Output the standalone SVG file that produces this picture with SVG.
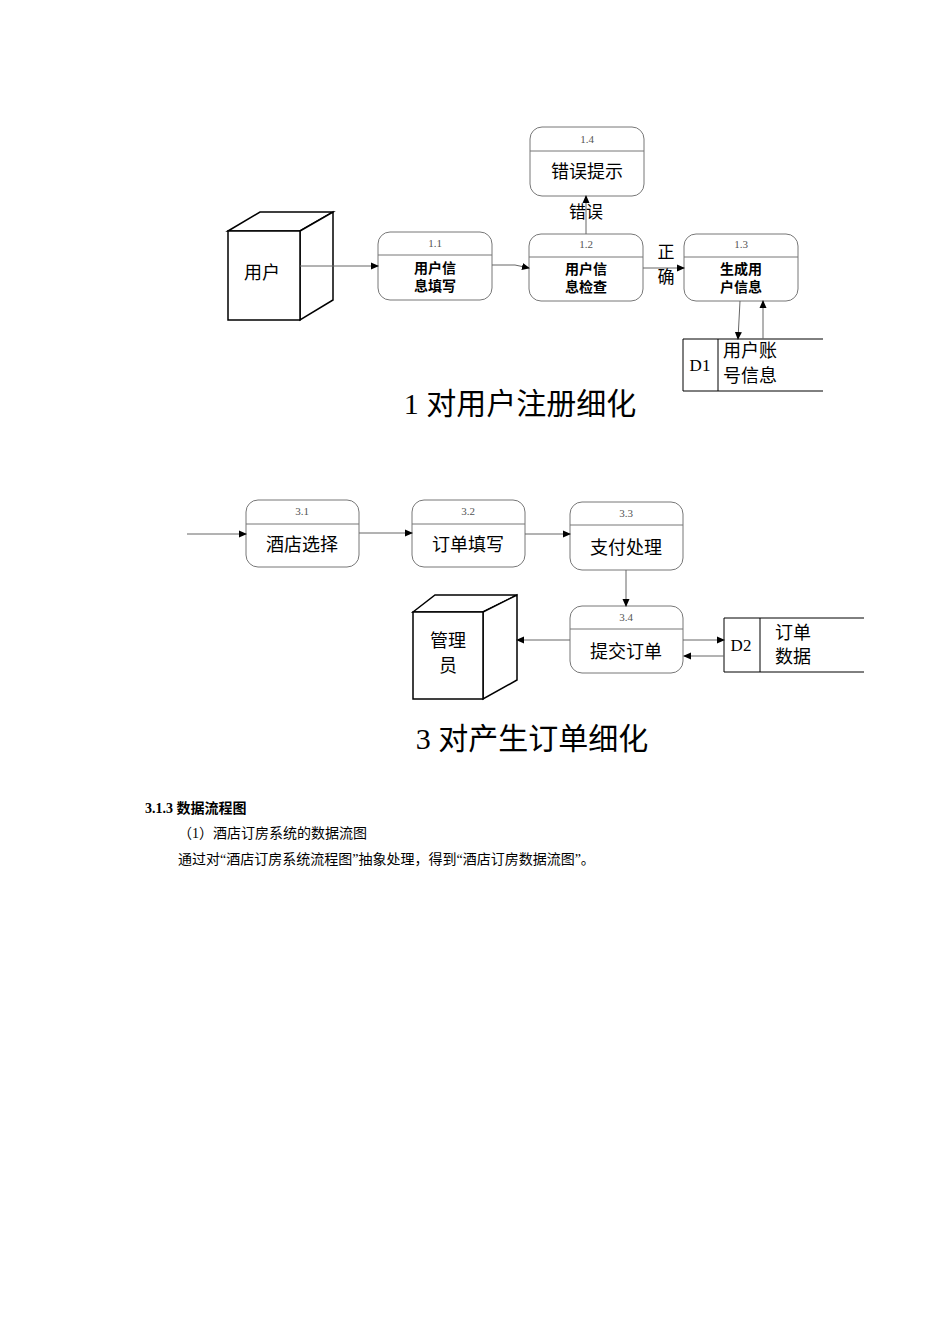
<svg xmlns="http://www.w3.org/2000/svg" width="950" height="1344" viewBox="0 0 950 1344">
<style>
.p{fill:#fff;stroke:#777;stroke-width:1}
.d{stroke:#777;stroke-width:1}
.num{font-family:"Liberation Serif",serif;font-size:11px;fill:#555;text-anchor:middle}
.t{font-family:"Noto Sans CJK SC",sans-serif;fill:#000;text-anchor:middle}
.c{stroke:#666;stroke-width:1;fill:none;marker-end:url(#a)}
.e{fill:#fff;stroke:#000;stroke-width:1.5}
.ttl{font-family:"Liberation Serif","Noto Sans CJK SC",serif;font-size:30px;text-anchor:middle}
.body{font-family:"Liberation Serif","Noto Sans CJK SC",serif;font-size:14px}
</style>
<defs><marker id="a" markerWidth="8" markerHeight="8" refX="7" refY="4" orient="auto" markerUnits="userSpaceOnUse"><path d="M0,0.5 L8,4 L0,7.5z" fill="#000"/></marker></defs>
<rect width="950" height="1344" fill="#fff"/>
<g id="user"><polygon class="e" points="228,231 260,212 333,212 300,231"/><polygon class="e" points="300,231 333,212 333,300 300,320"/><rect class="e" x="228" y="231" width="72" height="89"/><text class="t" x="262" y="279" font-size="18">用户</text></g>
<g id="p11"><rect class="p" x="378" y="232" width="114" height="68" rx="12"/><line class="d" x1="378" y1="255" x2="492" y2="255"/><text class="num" x="435" y="247">1.1</text><text class="t" x="435" y="273" font-size="14" font-weight="bold">用户信</text><text class="t" x="435" y="291" font-size="14" font-weight="bold">息填写</text></g>
<g id="p12"><rect class="p" x="529" y="234" width="114" height="67" rx="12"/><line class="d" x1="529" y1="257" x2="643" y2="257"/><text class="num" x="586" y="248">1.2</text><text class="t" x="586" y="274" font-size="14" font-weight="bold">用户信</text><text class="t" x="586" y="292" font-size="14" font-weight="bold">息检查</text></g>
<g id="p13"><rect class="p" x="684" y="234" width="114" height="67" rx="12"/><line class="d" x1="684" y1="257" x2="798" y2="257"/><text class="num" x="741" y="248">1.3</text><text class="t" x="741" y="274" font-size="14" font-weight="bold">生成用</text><text class="t" x="741" y="292" font-size="14" font-weight="bold">户信息</text></g>
<g id="p14"><rect class="p" x="530" y="127" width="114" height="69" rx="12"/><line class="d" x1="530" y1="151" x2="644" y2="151"/><text class="num" x="587" y="143">1.4</text><text class="t" x="587" y="178" font-size="18">错误提示</text></g>
<g id="d1"><path d="M823,339 H683 V391 H823 M718,339 V391" fill="none" stroke="#000" stroke-width="1"/><text x="700" y="371" font-family="Liberation Serif,serif" font-size="17" text-anchor="middle">D1</text><text class="t" x="723" y="357" font-size="18" style="text-anchor:start">用户账</text><text class="t" x="723" y="382" font-size="18" style="text-anchor:start">号信息</text></g>
<g id="p31"><rect class="p" x="246" y="500" width="113" height="67" rx="12"/><line class="d" x1="246" y1="524" x2="359" y2="524"/><text class="num" x="302" y="515">3.1</text><text class="t" x="302" y="551" font-size="18">酒店选择</text></g>
<g id="p32"><rect class="p" x="412" y="500" width="113" height="67" rx="12"/><line class="d" x1="412" y1="524" x2="525" y2="524"/><text class="num" x="468" y="515">3.2</text><text class="t" x="468" y="551" font-size="18">订单填写</text></g>
<g id="p33"><rect class="p" x="570" y="502" width="113" height="68" rx="12"/><line class="d" x1="570" y1="525" x2="683" y2="525"/><text class="num" x="626" y="517">3.3</text><text class="t" x="626" y="554" font-size="18">支付处理</text></g>
<g id="p34"><rect class="p" x="570" y="606" width="113" height="67" rx="12"/><line class="d" x1="570" y1="629" x2="683" y2="629"/><text class="num" x="626" y="621">3.4</text><text class="t" x="626" y="658" font-size="18">提交订单</text></g>
<g id="admin"><polygon class="e" points="413,612 435,595 517,595 483,612"/><polygon class="e" points="483,612 517,595 517,680 483,699"/><rect class="e" x="413" y="612" width="70" height="87"/><text class="t" x="448" y="647" font-size="18">管理</text><text class="t" x="448" y="672" font-size="18">员</text></g>
<g id="d2"><path d="M864,618 H724 V672 H864 M760,618 V672" fill="none" stroke="#000" stroke-width="1"/><text x="741" y="651" font-family="Liberation Serif,serif" font-size="17" text-anchor="middle">D2</text><text class="t" x="793" y="639" font-size="18">订单</text><text class="t" x="793" y="663" font-size="18">数据</text></g>
<g id="connectors">
<line class="c" x1="300" y1="266" x2="378" y2="266"/>
<path class="c" d="M492,265 L515,265 L529,268"/>
<line class="c" x1="643" y1="268" x2="684" y2="268"/>
<line class="c" x1="586" y1="234" x2="586" y2="196"/>
<line class="c" x1="740" y1="301" x2="738" y2="339"/>
<line class="c" x1="763" y1="339" x2="763" y2="301"/>
<line class="c" x1="187" y1="534" x2="246" y2="534"/>
<line class="c" x1="359" y1="533" x2="412" y2="533"/>
<line class="c" x1="525" y1="534" x2="570" y2="534"/>
<line class="c" x1="626" y1="570" x2="626" y2="606"/>
<line class="c" x1="570" y1="640" x2="517" y2="640"/>
<line class="c" x1="683" y1="640" x2="724" y2="640"/>
<line class="c" x1="724" y1="656" x2="684" y2="656"/>
</g>
<text class="t" x="586" y="218" font-size="17">错误</text>
<text class="t" x="666" y="258" font-size="17">正</text>
<text class="t" x="666" y="283" font-size="17">确</text>
<text class="ttl" x="520" y="414">1 对用户注册细化</text>
<text class="ttl" x="532" y="749">3 对产生订单细化</text>
<text class="body" x="145" y="813" font-weight="bold">3.1.3 数据流程图</text>
<text class="body" x="178" y="838">（1）酒店订房系统的数据流图</text>
<text class="body" x="178" y="864">通过对“酒店订房系统流程图”抽象处理，得到“酒店订房数据流图”。</text>
</svg>
